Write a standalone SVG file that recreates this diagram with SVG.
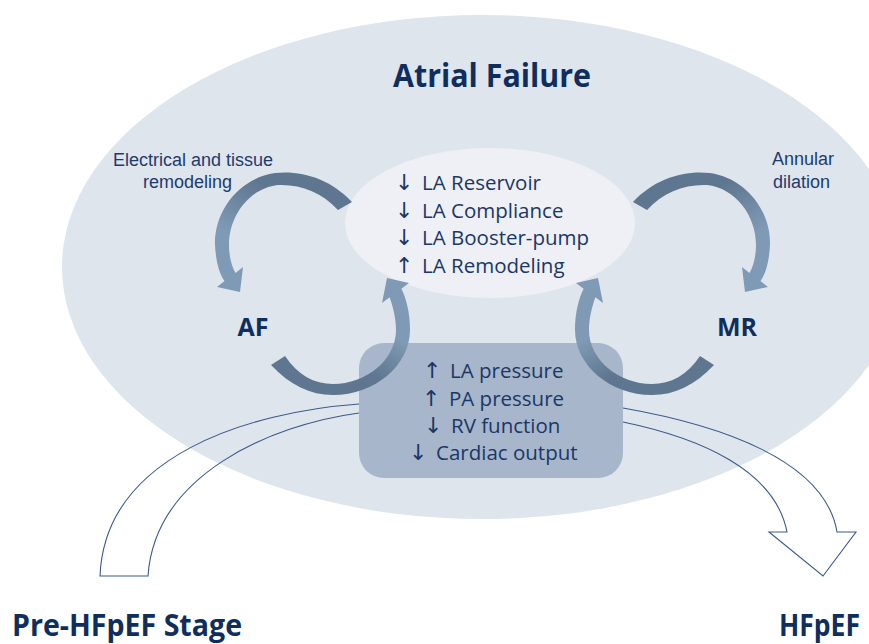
<svg xmlns="http://www.w3.org/2000/svg" xmlns:xlink="http://www.w3.org/1999/xlink" width="869" height="644" viewBox="0 0 869 644">
  <defs>
    <style>
      .bold { font-family: "Open Sans", "Liberation Sans", sans-serif; font-weight: 700; fill: #0f2e5e; }
      .reg { font-family: "Open Sans", "DejaVu Sans", sans-serif; font-size: 20.5px; fill: #1a3768; }
      .arr { font-family: "DejaVu Sans", "Noto Sans", sans-serif; font-size: 22px; fill: #1a3768; }
      .lbl { font-family: "Liberation Sans", Arial, sans-serif; font-size: 18px; fill: #1f3b6d; }
      .outline { fill: none; stroke: #3a5a8c; stroke-width: 1.1; }
    </style>
    <linearGradient id="gTop" x1="0.75" y1="0" x2="0.1" y2="0.85">
      <stop offset="0.3" stop-color="#5e7690"/>
      <stop offset="0.75" stop-color="#7f9ab4"/>
    </linearGradient>
    <linearGradient id="gBot" x1="0.2" y1="1" x2="0.9" y2="0.1">
      <stop offset="0.4" stop-color="#5e7690"/>
      <stop offset="0.72" stop-color="#7f9ab4"/>
    </linearGradient>
    <path id="a1" fill="url(#gTop)" d="M 352 202 C 330 178, 300 170, 275 173 C 240 178, 214 210, 215 245 C 216 262, 219 273, 224.5 281 L 217 287 L 240 292 L 243 267 L 235.5 273 C 231 265, 229 255, 229 245 C 229 215, 250 188, 278 185 C 300 184, 322 192, 338 210 Z"/>
    <path id="a2" fill="url(#gBot)" d="M 271 365 C 290 385, 310 395, 333 395 C 375 395, 410 365, 410 330 C 410 312, 406 298, 401.4 288.7 L 409 283 L 387 278 L 382 303 L 389.6 297.3 C 393 307, 396 318, 396 330 C 396 360, 366 384, 333 384 C 314 384, 298 375, 285 356 Z"/>
  </defs>

  <rect x="0" y="0" width="869" height="644" fill="#ffffff"/>

  <g id="atrial-failure">
    <ellipse cx="482" cy="267" rx="420" ry="252" fill="#dee5ed"/>
    <text class="bold" x="492" y="87" font-size="33" text-anchor="middle" textLength="198" lengthAdjust="spacingAndGlyphs">Atrial Failure</text>
  </g>

  <g id="la-function">
    <ellipse cx="490" cy="223" rx="145" ry="75" fill="#eef0f5"/>
    <text class="arr" x="395" y="190">↓</text><text class="reg" x="422" y="190">LA Reservoir</text>
    <text class="arr" x="395" y="218">↓</text><text class="reg" x="422" y="218">LA Compliance</text>
    <text class="arr" x="395" y="245">↓</text><text class="reg" x="422" y="245">LA Booster-pump</text>
    <text class="arr" x="395" y="273">↑</text><text class="reg" x="422" y="273">LA Remodeling</text>
  </g>

  <g id="hemodynamics">
    <rect x="359" y="343" width="264" height="135" rx="25" ry="25" fill="#a7b6cb"/>
    <text class="arr" x="423" y="378">↑</text><text class="reg" x="450" y="378">LA pressure</text>
    <text class="arr" x="422" y="406">↑</text><text class="reg" x="449" y="406">PA pressure</text>
    <text class="arr" x="424" y="433">↓</text><text class="reg" x="451" y="433">RV function</text>
    <text class="arr" x="409" y="460">↓</text><text class="reg" x="436" y="460">Cardiac output</text>
  </g>

  <g id="af">
    <text class="bold" x="253" y="336" font-size="25" text-anchor="middle">AF</text>
  </g>
  <g id="mr">
    <text class="bold" x="737" y="336" font-size="25" text-anchor="middle">MR</text>
  </g>

  <g id="label-electrical">
    <text class="lbl" x="113" y="166">Electrical and tissue</text>
    <text class="lbl" x="143" y="188">remodeling</text>
  </g>
  <g id="label-annular">
    <text class="lbl" x="772" y="165">Annular</text>
    <text class="lbl" x="773" y="188">dilation</text>
  </g>

  <g id="pre-hfpef">
    <text class="bold" x="12" y="636" font-size="30" textLength="230" lengthAdjust="spacingAndGlyphs">Pre-HFpEF Stage</text>
  </g>
  <g id="hfpef">
    <text class="bold" x="779" y="636" font-size="30" textLength="81" lengthAdjust="spacingAndGlyphs">HFpEF</text>
  </g>

  <g id="connectors">
    <use xlink:href="#a1" href="#a1"/>
    <use xlink:href="#a2" href="#a2"/>
    <g transform="matrix(-1 0 0 1 985 0)">
      <use xlink:href="#a1" href="#a1"/>
      <use xlink:href="#a2" href="#a2"/>
    </g>
    <path class="outline" d="M 359 404 C 250 412, 105 455, 100 576 L 148 576 C 155 475, 270 425, 359 413"/>
    <path class="outline" d="M 623 408 C 720 425, 825 460, 837 532 L 856 532 L 823 576 L 769 532 L 787 532 C 775 470, 700 438, 623 422"/>
  </g>
</svg>
